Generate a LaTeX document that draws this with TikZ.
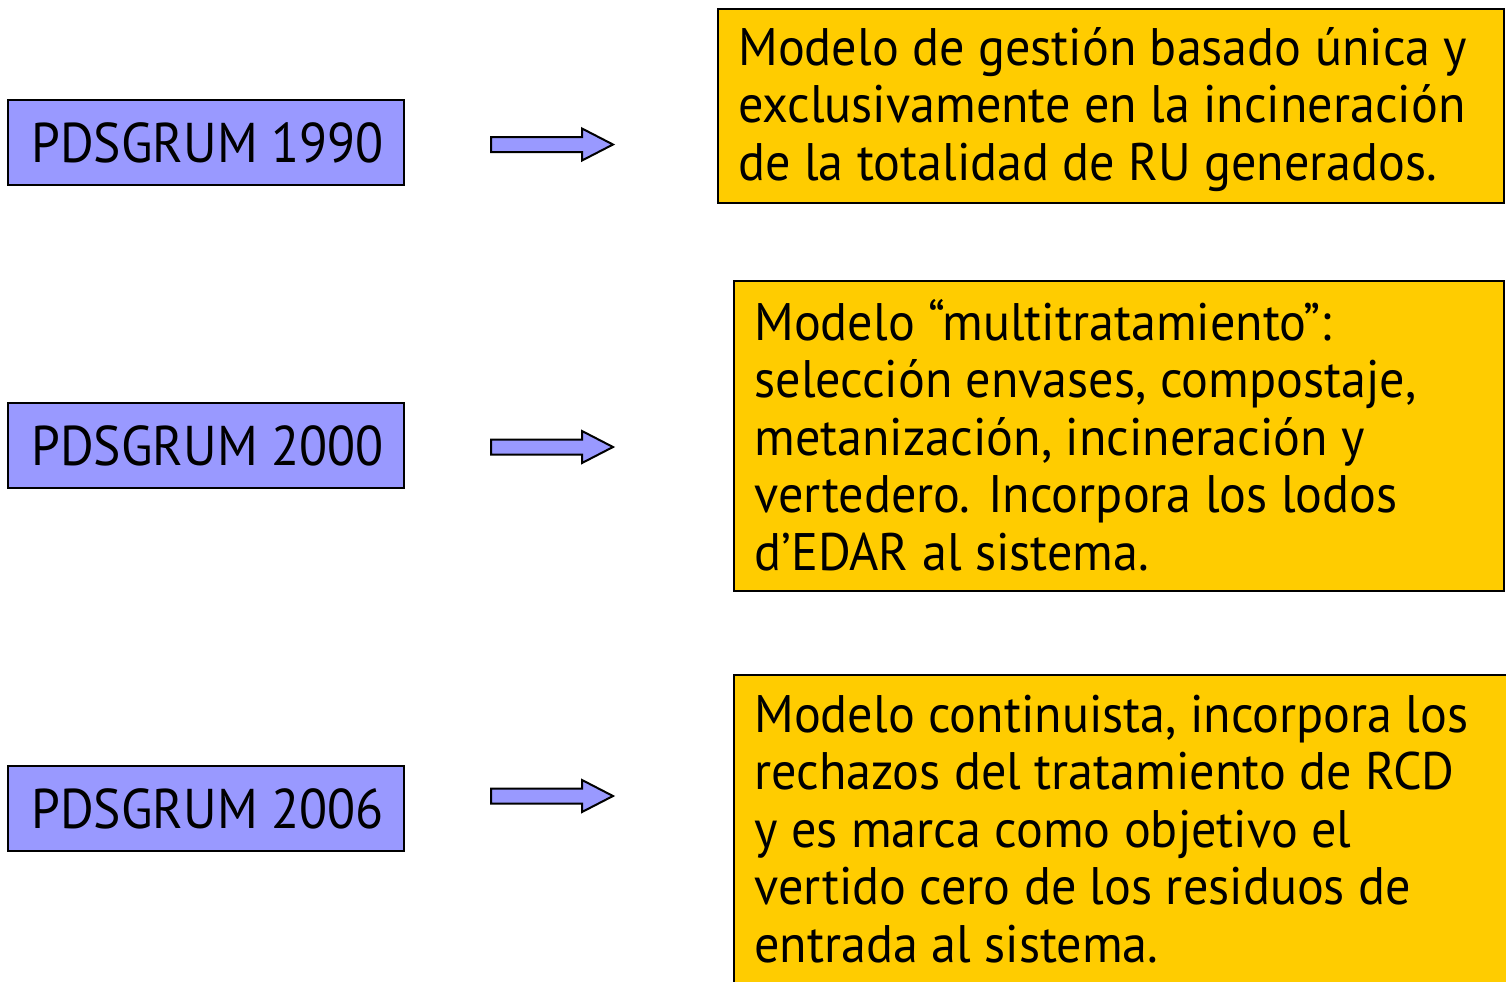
\documentclass[tikz,border=0pt]{standalone}
\usepackage{fontspec}
\setmainfont{PT Sans}
\newfontfamily\yearfont[FakeStretch=0.92]{PT Sans}
\newfontfamily\descfont[FakeStretch=0.95]{PT Sans}
\definecolor{lblue}{HTML}{9999FF}
\definecolor{gold}{HTML}{FFCC00}
\begin{document}
\begin{tikzpicture}[x=0.5pt,y=-0.5pt,
  yearbox/.style={draw=black,line width=1pt,fill=lblue},
  descbox/.style={draw=black,line width=1pt,fill=gold},
  yeartext/.style={anchor=base west,inner sep=0pt,font=\yearfont\fontsize{28}{30}\selectfont},
  desctext/.style={anchor=base west,inner sep=0pt,align=left,font=\descfont\fontsize{26.4}{28.75}\selectfont},
  blockarrow/.style={draw=black,line width=1pt,fill=lblue,line join=miter}]
\useasboundingbox (0,0) rectangle (1506,981);
% left boxes
\path[yearbox] (8,100) rectangle (404,185);
\node[yeartext] (y1) at (31,162) {PDSGRUM 1990};
\path[yearbox] (8,403) rectangle (404,488);
\node[yeartext] (y2) at (31,465) {PDSGRUM 2000};
\path[yearbox] (8,766) rectangle (404,851);
\node[yeartext] (y3) at (31,828) {PDSGRUM 2006};
% arrows
\foreach \n/\c in {a1/144.5,a2/447,a3/796}{
  \coordinate (\n) at (491,\c);
  \draw[blockarrow] (\n) ++(0,-7.5) -- ++(91,0) -- ++(0,-8.5) -- ++(31,16) -- ++(-31,16) -- ++(0,-8.5) -- ++(-91,0) -- cycle;
}
% right boxes (text anchored at the baseline of the last line)
\path[descbox] (718,9) rectangle (1504,203);
\node[desctext] (d1) at (738,180) {Modelo de gestión basado única y\\exclusivamente en la incineración\\de la totalidad de RU generados.};
\path[descbox] (734,281) rectangle (1504,591);
\node[desctext] (d2) at (754,570) {Modelo “multitratamiento”:\\selección envases, compostaje,\\metanización, incineración y\\vertedero. Incorpora los lodos\\d’EDAR al sistema.};
\path[descbox] (734,675) rectangle (1520,1000);
\node[desctext] (d3) at (754,962) {Modelo continuista, incorpora los\\rechazos del tratamiento de RCD\\y es marca como objetivo el\\vertido cero de los residuos de\\entrada al sistema.};
\end{tikzpicture}
\end{document}
